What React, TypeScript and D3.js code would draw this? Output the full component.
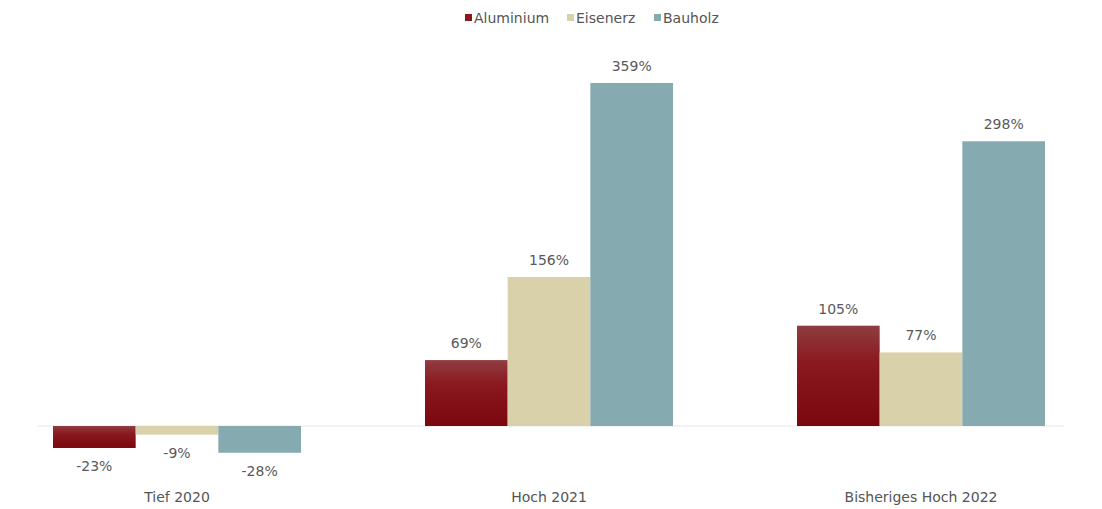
import React from "react";
import * as d3 from "d3";

const categories = ["Tief 2020", "Hoch 2021", "Bisheriges Hoch 2022"];
const seriesNames = ["Aluminium", "Eisenerz", "Bauholz"];
const aluminium = [-23, 69, 105];
const eisenerz = [-9, 156, 77];
const bauholz = [-28, 359, 298];

const W = 1102;
const H = 509;

export default function App() {
  const values = [aluminium, eisenerz, bauholz];
  const x0 = d3.scaleBand<string>().domain(categories).range([-9, 1107]).paddingInner(1 / 3).paddingOuter(1 / 6);
  const x1 = d3.scaleBand<string>().domain(seriesNames).range([0, x0.bandwidth()]).padding(0);
  const y = d3.scaleLinear().domain([0, 359]).range([426, 83]);
  const fills = ["url(#alu)", "#d9d1a9", "#85abb1"];
  const legendX = [465, 567, 654];
  const legendColors = ["#8b1a20", "#d9d1a9", "#85abb1"];
  const font = "'DejaVu Sans', 'Noto Sans', sans-serif";

  return (
    <svg width={W} height={H} style={{ position: "absolute", left: 0, top: 0, background: "#fff" }} fontFamily={font}>
      <defs>
        <linearGradient id="alu" x1="0" y1="0" x2="0" y2="1">
          <stop offset="0%" stopColor="#8f3d42" />
          <stop offset="35%" stopColor="#8a1a20" />
          <stop offset="100%" stopColor="#7a070d" />
        </linearGradient>
      </defs>
      <line x1={38} x2={1064} y1={y(0)} y2={y(0)} stroke="#e6e6e6" strokeWidth={1} />
      {categories.map((c, ci) => (
        <g key={c} transform={`translate(${x0(c)},0)`}>
          {seriesNames.map((s, si) => {
            const v = values[si][ci];
            const top = v >= 0 ? y(v) : y(0);
            const h = Math.abs(y(v) - y(0));
            const bx = x1(s)!;
            const bw = x1.bandwidth();
            return (
              <g key={s}>
                <rect x={bx} y={top} width={bw} height={h} fill={fills[si]} />
                <text
                  x={bx + bw / 2}
                  y={v >= 0 ? y(v) - 12 : y(v) + 23}
                  textAnchor="middle"
                  fontSize={14}
                  fill="#595959"
                >
                  {v}%
                </text>
              </g>
            );
          })}
          <text x={x0.bandwidth() / 2} y={502} textAnchor="middle" fontSize={14} fill="#555">
            {c}
          </text>
        </g>
      ))}
      <g>
        {seriesNames.map((s, i) => (
          <g key={s} transform={`translate(${legendX[i]},0)`}>
            <rect x={0} y={14} width={7} height={7} fill={legendColors[i]} />
            <text x={9} y={23} fontSize={14} fill="#555">
              {s}
            </text>
          </g>
        ))}
      </g>
    </svg>
  );
}
